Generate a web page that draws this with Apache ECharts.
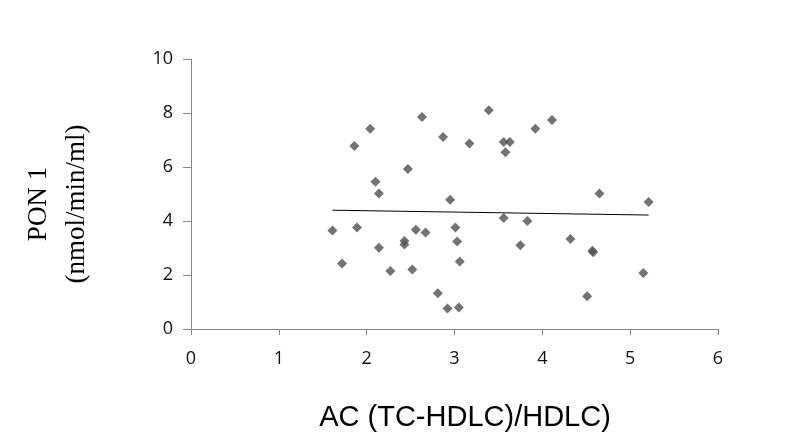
<!DOCTYPE html>
<html>
<head>
<meta charset="utf-8">
<script src="https://cdn.jsdelivr.net/npm/echarts@6/dist/echarts.min.js"></script>
<style>
html,body{margin:0;padding:0;background:#fff;}
#chart{width:799px;height:441px;}
</style>
</head>
<body>
<div id="chart"></div>
<script>
// AC (TC-HDLC)/HDLC values
const acValues = [1.61,1.72,1.86,1.89,2.04,2.10,2.14,2.14,2.27,2.43,2.43,2.47,2.52,2.56,2.63,2.67,2.81,2.87,2.92,2.95,3.01,3.03,3.05,3.06,3.17,3.39,3.56,3.63,3.58,3.56,3.75,3.83,3.92,4.11,4.32,4.51,4.57,4.58,4.65,5.15,5.21];
// PON 1 (nmol/min/ml) values
const ponValues = [3.65,2.43,6.78,3.76,7.42,5.45,5.02,3.01,2.15,3.26,3.13,5.93,2.20,3.68,7.85,3.57,1.32,7.11,0.76,4.79,3.76,3.24,0.80,2.50,6.87,8.10,6.93,6.93,6.55,4.11,3.10,4.00,7.42,7.74,3.33,1.21,2.90,2.84,5.02,2.07,4.70];
// linear trend line end points
const trendX = [1.61, 5.21];
const trendY = [4.40, 4.22];
const xTicks = [0,1,2,3,4,5,6];
const yTicks = [0,2,4,6,8,10];

const chart = echarts.init(document.getElementById('chart'), null, {renderer:'canvas'});
const axisColor = '#868686';
chart.setOption({
  animation: false,
  backgroundColor: '#ffffff',
  grid: {left: 191, right: 81, top: 59, bottom: 112, containLabel: false},
  xAxis: {
    type: 'value', min: xTicks[0], max: xTicks[xTicks.length-1], interval: 1,
    axisLine: {show: true, onZero: false, lineStyle: {color: axisColor, width: 1}},
    axisTick: {show: true, inside: false, length: 6, lineStyle: {color: axisColor}},
    splitLine: {show: false},
    axisLabel: {margin: 21, color: '#111', fontFamily: 'Open Sans', fontSize: 18}
  },
  yAxis: {
    type: 'value', min: yTicks[0], max: yTicks[yTicks.length-1], interval: 2,
    axisLine: {show: true, onZero: false, lineStyle: {color: axisColor, width: 1}},
    axisTick: {show: true, inside: false, length: 8, lineStyle: {color: axisColor}},
    splitLine: {show: false},
    axisLabel: {margin: 18, color: '#111', fontFamily: 'Open Sans', fontSize: 18}
  },
  graphic: [
    {
      type: 'text', x: 465, y: 418,
      style: {text: 'AC (TC-HDLC)/HDLC)', fontFamily: 'Liberation Sans, Arial', fontSize: 29,
        fill: '#000', textAlign: 'center', textVerticalAlign: 'middle'}
    },
    {
      type: 'text', x: 58, y: 204, rotation: Math.PI/2,
      style: {text: 'PON 1\n(nmol/min/ml)', fontFamily: 'Liberation Serif, Times New Roman', fontSize: 27,
        lineHeight: 38, fill: '#000', textAlign: 'center', textVerticalAlign: 'middle'}
    }
  ],
  series: [
    {
      type: 'scatter', symbol: 'diamond', symbolSize: 10,
      itemStyle: {color: '#505050'},
      data: acValues.map((x, i) => [x, ponValues[i]]),
      z: 3
    },
    {
      type: 'line', symbol: 'none', silent: true,
      lineStyle: {color: '#000', width: 1},
      data: trendX.map((x, i) => [x, trendY[i]]),
      z: 2
    }
  ]
});
</script>
</body>
</html>
